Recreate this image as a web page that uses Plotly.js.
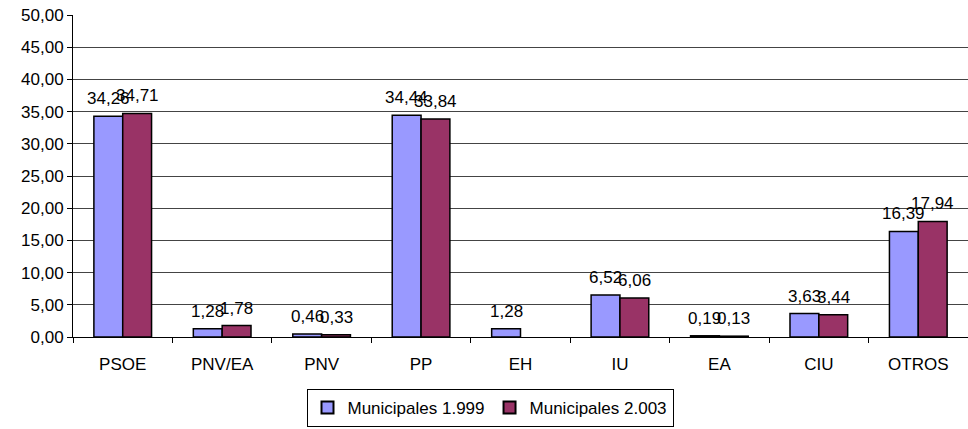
<!DOCTYPE html>
<html>
<head>
<meta charset="utf-8">
<script src="https://cdn.plot.ly/plotly-3.0.1.min.js"></script>
<style>
  html, body { margin: 0; padding: 0; background: #fff; }
  #chart { width: 968px; height: 429px; }
</style>
</head>
<body>
<div id="chart"></div>
<script>
const parties = ["PSOE", "PNV/EA", "PNV", "PP", "EH", "IU", "EA", "CIU", "OTROS"];
const muni1999 = [34.26, 1.28, 0.46, 34.44, 1.28, 6.52, 0.19, 3.63, 16.39];
const muni2003 = [34.71, 1.78, 0.33, 33.84, null, 6.06, 0.13, 3.44, 17.94];
const yTicks = [0, 5, 10, 15, 20, 25, 30, 35, 40, 45, 50];

const fontFam = "Liberation Sans, Arial, sans-serif";

function fmt(v) {
  return v.toFixed(2).replace(".", ",");
}

// data labels sit above each bar, shifted to the bar's half of the group
function labels(values, shift) {
  return values
    .map((v, i) => v == null ? null : {
      x: parties[i], y: v, xref: "x", yref: "y",
      text: fmt(v), showarrow: false,
      xshift: shift, yshift: 6, yanchor: "bottom",
      font: { family: fontFam, size: 17, color: "#000" },
    })
    .filter(a => a);
}

const traces = [
  {
    type: "bar",
    name: "Municipales 1.999",
    x: parties,
    y: muni1999,
    marker: { color: "#9999FF", line: { color: "#000", width: 1.5 } },
    hoverinfo: "x+y",
  },
  {
    type: "bar",
    name: "Municipales 2.003",
    x: parties,
    y: muni2003,
    marker: { color: "#993366", line: { color: "#000", width: 1.5 } },
    hoverinfo: "x+y",
  },
];

const layout = {
  width: 968,
  height: 429,
  margin: { l: 73, r: 0, t: 15, b: 92 },
  paper_bgcolor: "#fff",
  plot_bgcolor: "#fff",
  font: { family: fontFam, size: 16, color: "#000" },
  separators: ",.",
  barmode: "group",
  bargap: 0.42,
  bargroupgap: 0,
  showlegend: true,
  legend: {
    orientation: "h",
    xref: "container",
    yref: "container",
    x: 490 / 968,
    xanchor: "center",
    y: 2 / 429,
    yanchor: "bottom",
    bordercolor: "#000",
    borderwidth: 1,
    font: { family: fontFam, size: 17 },
    itemwidth: 30,
    itemsizing: "constant",
    tracegroupgap: 0,
  },
  xaxis: {
    type: "category",
    showline: true,
    linecolor: "#000",
    linewidth: 1,
    ticks: "outside",
    tickson: "boundaries",
    ticklen: 5,
    tickcolor: "#000",
    showgrid: false,
    ticklabelstandoff: 12,
    tickfont: { family: fontFam, size: 17 },
  },
  yaxis: {
    range: [0, 50],
    tickvals: yTicks,
    tickformat: ".2f",
    showline: true,
    linecolor: "#000",
    linewidth: 1,
    ticks: "outside",
    ticklen: 5,
    tickcolor: "#000",
    showgrid: true,
    gridcolor: "#444",
    gridwidth: 1,
    zeroline: false,
    tickfont: { family: fontFam, size: 17 },
  },
  annotations: [...labels(muni1999, -14.5), ...labels(muni2003, 14.5)],
};

Plotly.newPlot("chart", traces, layout, { displayModeBar: false, staticPlot: true });
</script>
</body>
</html>
